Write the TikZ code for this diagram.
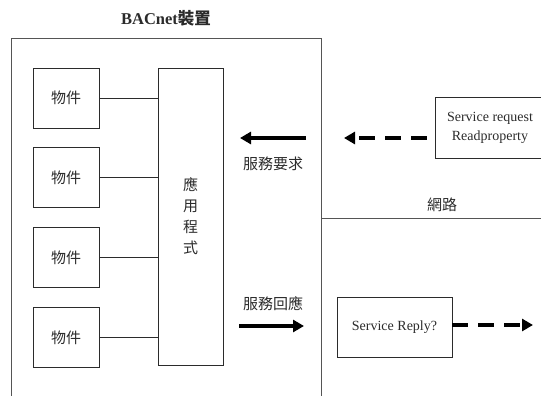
\documentclass[tikz,border=0pt]{standalone}
\usepackage{fontspec}
\setmainfont{Liberation Serif}
\newfontfamily\cjkfont{Noto Sans CJK TC}
\usetikzlibrary{arrows.meta,positioning}
\definecolor{ink}{HTML}{2B2B2B}
\definecolor{frame}{HTML}{555555}

\begin{document}
\begin{tikzpicture}[x=1pt, y=-1pt,
  font=\fontsize{14}{19}\selectfont, line width=0.9pt, ink,
  box/.style={draw=ink, rectangle, inner sep=0pt, align=center},
  obj/.style={box, minimum width=66pt, minimum height=60pt, font=\cjkfont\fontsize{15}{20}\selectfont},
  cjk/.style={font=\cjkfont\fontsize{15}{20}\selectfont, inner sep=0pt},
  link/.style={draw=ink, line width=0.9pt},
  arr/.style={-{Triangle[length=11pt, width=12pt]}, line width=3.2pt, draw=black},
  darr/.style={arr, dash pattern=on 16pt off 10pt}]
\clip (0,0) rectangle (541,396);
% ---------- device frame and title
\node[cjk, font=\bfseries\fontsize{16.5}{19}\selectfont] (title) at (166,18) {BACnet{\cjkfont\bfseries 裝置}};
\node[box, draw=frame, minimum width=310pt, minimum height=382pt] (dev) at (166,229) {};
% ---------- objects and application
\node[obj] (obj1) at (66,98) {物件};
\node[obj] (obj2) at (66,177.5) {物件};
\node[obj] (obj3) at (66,257.5) {物件};
\node[obj] (obj4) at (66,337.5) {物件};
\node[box, minimum width=65pt, minimum height=297pt, font=\cjkfont\fontsize{15}{21}\selectfont] (app) at (190.5,216.5) {應\\用\\程\\式};
% ---------- network side
\node[box, minimum width=110pt, minimum height=61pt] (req) at (490,127.5) {Service request\\Readproperty};
\node[box, minimum width=115pt, minimum height=60pt] (rep) at (394.5,327) {Service Reply?};
\coordinate (netend) at (541,218);
\node[cjk] (net) at (442,205) {網路};
\coordinate (reqin) at (306,138);
\coordinate (reqout) at (240,138);
\coordinate (repin) at (239,326);
\coordinate (repout) at (304,326);
\coordinate (dreq) at (344,138);
\coordinate (drep) at (533,325);
\node[cjk] (reqlab) at (273,164) {服務要求};
\node[cjk] (replab) at (273,304) {服務回應};
% ---------- edges
\draw[link] (obj1.east) -- (obj1.east -| app.west);
\draw[link] (obj2.east) -- (obj2.east -| app.west);
\draw[link] (obj3.east) -- (obj3.east -| app.west);
\draw[link] (obj4.east) -- (obj4.east -| app.west);
\draw[link, draw=frame] (dev.east |- netend) -- (netend);
\draw[arr] (reqin) -- (reqout);
\draw[arr] (repin) -- (repout);
\draw[darr, shorten <=8pt] (req.west |- dreq) -- (dreq);
\draw[darr] (rep.east |- drep) -- (drep);
\end{tikzpicture}
\end{document}
